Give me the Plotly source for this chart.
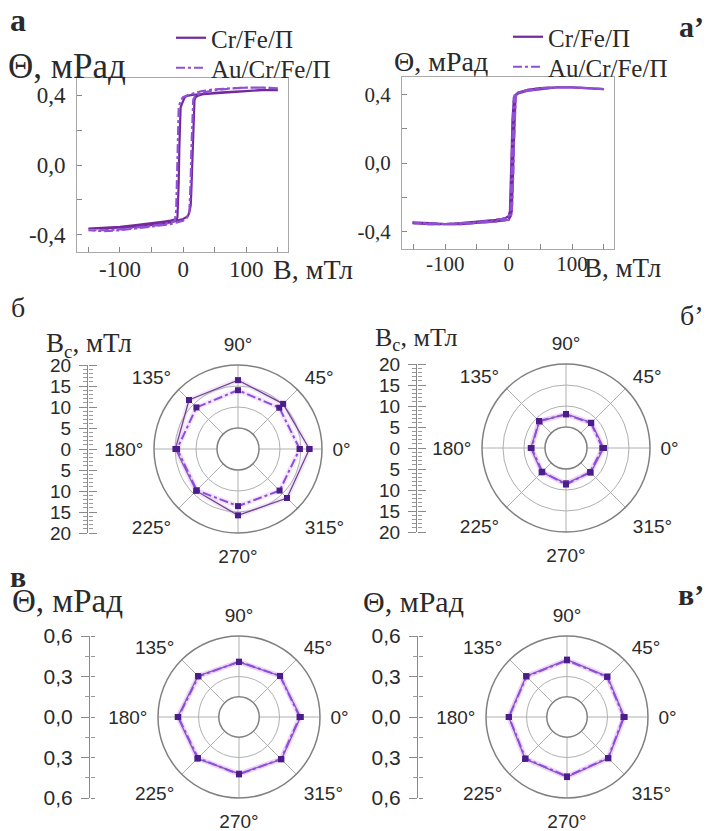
import plotly.graph_objects as go

W, H = 710, 831

# ---------------- data: hysteresis loops (panel а) ----------------
a_cr_desc_B = [150, 120, 100, 75, 50, 30, 20, 10, 5, 2, 0, -2, -4, -5, -6, -7, -8, -9, -10, -15, -20, -30, -50, -75, -100, -125, -150]
a_cr_desc_T = [0.43, 0.43, 0.425, 0.42, 0.415, 0.41, 0.405, 0.40, 0.395, 0.385, 0.37, 0.35, 0.33, 0.25, 0.10, -0.10, -0.25, -0.30, -0.31, -0.315, -0.32, -0.325, -0.335, -0.345, -0.355, -0.36, -0.365]
a_cr_asc_B = [-150, -125, -100, -75, -50, -30, -20, -10, 0, 5, 8, 10, 12, 13, 14, 15, 16, 17, 18, 20, 25, 30, 50, 75, 100, 125, 150]
a_cr_asc_T = [-0.365, -0.365, -0.36, -0.355, -0.345, -0.335, -0.33, -0.32, -0.31, -0.30, -0.29, -0.27, -0.23, -0.15, -0.02, 0.12, 0.26, 0.34, 0.375, 0.39, 0.40, 0.405, 0.415, 0.42, 0.425, 0.43, 0.43]

a_au_desc_B = [150, 125, 100, 75, 50, 30, 20, 10, 0, -4, -7, -8, -9, -10, -11, -12, -13, -15, -20, -30, -50, -75, -100, -125, -150]
a_au_desc_T = [0.44, 0.445, 0.445, 0.44, 0.435, 0.425, 0.415, 0.405, 0.39, 0.37, 0.33, 0.22, 0.05, -0.12, -0.26, -0.31, -0.32, -0.325, -0.33, -0.34, -0.35, -0.36, -0.37, -0.375, -0.375]
a_au_asc_B = [-150, -125, -100, -75, -50, -30, -20, -10, 0, 5, 8, 10, 11, 12, 13, 14, 15, 16, 18, 20, 30, 50, 75, 100, 125, 150]
a_au_asc_T = [-0.375, -0.38, -0.375, -0.365, -0.355, -0.345, -0.34, -0.33, -0.32, -0.31, -0.29, -0.26, -0.20, -0.08, 0.08, 0.24, 0.34, 0.375, 0.39, 0.40, 0.415, 0.43, 0.44, 0.445, 0.445, 0.44]

# ---------------- data: hysteresis loops (panel а’) ----------------
ap_cr_desc_B = [150, 125, 100, 75, 50, 30, 20, 15, 12, 10, 8, 6, 5, 4, 3, 2, 0, -5, -10, -20, -50, -75, -100, -125, -150]
ap_cr_desc_T = [0.43, 0.435, 0.44, 0.44, 0.435, 0.425, 0.415, 0.41, 0.40, 0.39, 0.36, 0.25, 0.10, -0.05, -0.20, -0.28, -0.31, -0.32, -0.325, -0.33, -0.34, -0.35, -0.355, -0.355, -0.35]
ap_cr_asc_B = [-150, -125, -100, -75, -50, -20, 0, 3, 5, 6, 7, 8, 9, 10, 11, 12, 15, 20, 30, 50, 75, 100, 125, 150]
ap_cr_asc_T = [-0.345, -0.35, -0.355, -0.355, -0.35, -0.34, -0.33, -0.31, -0.28, -0.20, -0.05, 0.10, 0.25, 0.35, 0.39, 0.40, 0.405, 0.41, 0.42, 0.43, 0.44, 0.44, 0.435, 0.43]

ap_au_desc_B = [150, 125, 100, 75, 50, 30, 20, 15, 12, 10, 8, 7, 6, 5, 4, 3, 0, -5, -10, -20, -50, -75, -100, -125, -150]
ap_au_desc_T = [0.43, 0.435, 0.44, 0.44, 0.435, 0.425, 0.415, 0.41, 0.405, 0.40, 0.38, 0.30, 0.15, 0.0, -0.15, -0.27, -0.31, -0.32, -0.325, -0.33, -0.345, -0.35, -0.355, -0.355, -0.35]
ap_au_asc_B = [-150, -125, -100, -75, -50, -20, 0, 3, 5, 6, 7, 8, 9, 10, 11, 13, 15, 20, 30, 50, 75, 100, 125, 150]
ap_au_asc_T = [-0.35, -0.35, -0.355, -0.355, -0.35, -0.34, -0.33, -0.315, -0.29, -0.22, -0.10, 0.05, 0.20, 0.32, 0.38, 0.40, 0.405, 0.41, 0.42, 0.43, 0.44, 0.44, 0.435, 0.43]

# ---------------- data: angular dependences ----------------
angles = [0, 45, 90, 135, 180, 225, 270, 315]
b_cr_Bc = [17.0, 15.2, 16.4, 16.5, 14.9, 14.1, 15.8, 16.5]
b_au_Bc = [14.7, 13.9, 14.0, 14.0, 14.5, 13.9, 13.6, 14.0]
bp_cr_Bc = [9.0, 8.5, 8.1, 8.9, 8.4, 8.2, 8.4, 8.3]
bp_au_Bc = [8.7, 8.4, 8.0, 9.1, 8.2, 8.0, 8.7, 8.1]
v_cr_T = [0.456, 0.43, 0.407, 0.43, 0.454, 0.436, 0.42, 0.444]
v_au_T = [0.45, 0.43, 0.41, 0.425, 0.45, 0.43, 0.425, 0.44]
vp_cr_T = [0.425, 0.424, 0.425, 0.428, 0.432, 0.439, 0.445, 0.433]
vp_au_T = [0.42, 0.42, 0.42, 0.425, 0.43, 0.435, 0.44, 0.43]

hyst_xticks = [-150, -100, -50, 0, 50, 100, 150]
hyst_xtext = ["", "-100", "", "0", "", "100", ""]
hyst_yticks = [-0.4, -0.2, 0.0, 0.2, 0.4]
hyst_ytext = ["-0,4", "", "0,0", "", "0,4"]
bc_ticks = [-20, -15, -10, -5, 0, 5, 10, 15, 20]
bc_text = ["20", "15", "10", "5", "0", "5", "10", "15", "20"]
th_ticks = [-0.6, -0.3, 0.0, 0.3, 0.6]
th_text = ["0,6", "0,3", "0,0", "0,3", "0,6"]

names = ["Cr/Fe/П", "Au/Cr/Fe/П"]

# ---------------- styles ----------------
C_CR = "#74299a"
C_AU = "#8f4fd6"
C_MK = "#4a1d8a"
SERIF = "Liberation Serif"
SANS = "Liberation Sans"
TXT = "#2a2a2a"
GRID = "#b0b0b0"


def dx(a, b):
    return [a / W, b / W]


def dy(top, bottom):
    return [1 - bottom / H, 1 - top / H]


fig = go.Figure()

# hysteresis traces (each item in its own legend box for exact placement)
for (xs, ys, nm, col, dash, ax, lg) in [
    (a_cr_desc_B + a_cr_asc_B, a_cr_desc_T + a_cr_asc_T, names[0], C_CR, "solid", ("x", "y"), "legend"),
    (a_au_desc_B + a_au_asc_B, a_au_desc_T + a_au_asc_T, names[1], C_AU, "dashdot", ("x", "y"), "legend2"),
    (ap_cr_desc_B + ap_cr_asc_B, ap_cr_desc_T + ap_cr_asc_T, names[0], C_CR, "solid", ("x2", "y2"), "legend3"),
    (ap_au_desc_B + ap_au_asc_B, ap_au_desc_T + ap_au_asc_T, names[1], C_AU, "dashdot", ("x2", "y2"), "legend4"),
]:
    fig.add_trace(go.Scatter(x=xs, y=ys, mode="lines", name=nm, legend=lg,
                             line=dict(color=col, width=2.2, dash=dash),
                             xaxis=ax[0], yaxis=ax[1]))


# polar traces
def add_polar(sub, rcr, rau):
    th_closed = angles + [angles[0]]
    for r, col, dash, w in [(rcr, "#6a4a8a", "solid", 1.3), (rau, "#8a4fe0", "dashdot", 2)]:
        rc = r + [r[0]]
        fig.add_trace(go.Scatterpolar(r=rc, theta=th_closed, mode="lines", subplot=sub,
                                      line=dict(color="rgba(215,150,240,0.25)", width=5),
                                      showlegend=False, hoverinfo="skip"))
        fig.add_trace(go.Scatterpolar(r=rc, theta=th_closed, mode="lines+markers", subplot=sub,
                                      line=dict(color=col, width=w, dash=dash),
                                      marker=dict(symbol="square", size=6, color=C_MK),
                                      showlegend=False))


add_polar("polar", b_cr_Bc, b_au_Bc)
add_polar("polar2", bp_cr_Bc, bp_au_Bc)
add_polar("polar3", v_cr_T, v_au_T)
add_polar("polar4", vp_cr_T, vp_au_T)


# ---------------- layout ----------------
def hyst_axes(xd, yd, fs):
    xa = dict(domain=xd, range=[-168, 166], tickmode="array", tickvals=hyst_xticks, ticktext=hyst_xtext,
              ticks="inside", ticklen=5, tickcolor="#888", showline=True, mirror=True, linecolor="#a8a8a8",
              linewidth=1, showgrid=False, zeroline=False, ticklabelstandoff=-4, automargin=False,
              tickfont=dict(family=SERIF, size=fs, color=TXT))
    ya = dict(domain=yd, range=[-0.5, 0.5], tickmode="array", tickvals=hyst_yticks, ticktext=hyst_ytext,
              ticks="inside", ticklen=5, tickcolor="#888", showline=True, mirror=True, linecolor="#a8a8a8",
              linewidth=1, showgrid=False, zeroline=False, ticklabelstandoff=6, automargin=False,
              tickfont=dict(family=SERIF, size=fs, color=TXT))
    return xa, ya


xa1, ya1 = hyst_axes(dx(77, 288), dy(78, 252), 23)
xa2, ya2 = hyst_axes(dx(402, 614), dy(77, 249), 21)
xa1["anchor"] = "y"; ya1["anchor"] = "x"
xa2["anchor"] = "y2"; ya2["anchor"] = "x2"


def polar_layout(cx, cy, R, rmin, rmax, rticks):
    return dict(
        domain=dict(x=dx(cx - R, cx + R), y=dy(cy - R, cy + R)),
        hole=rmin / rmax, bgcolor="white",
        radialaxis=dict(range=[rmin, rmax], tickmode="array", tickvals=rticks, showticklabels=False,
                        ticks="", showline=False, gridcolor=GRID, gridwidth=1),
        angularaxis=dict(rotation=0, direction="counterclockwise", tickmode="array",
                         tickvals=angles, ticktext=[f"{a}°" for a in angles],
                         ticks="outside", ticklen=6, tickcolor="rgba(0,0,0,0)",
                         linecolor="#808080", linewidth=1.5, gridcolor=GRID, gridwidth=1,
                         tickfont=dict(family=SANS, size=19, color=TXT)),
    )


def legend_box(x_text, y_center):
    return dict(x=(x_text - 41) / W, y=1 - y_center / H, xanchor="left", yanchor="middle",
                bgcolor="rgba(0,0,0,0)", font=dict(family=SERIF, size=25, color=TXT),
                tracegroupgap=0)


layout = dict(
    width=W, height=H, margin=dict(l=0, r=0, t=0, b=0, autoexpand=False),
    paper_bgcolor="white", plot_bgcolor="white",
    xaxis=xa1, yaxis=ya1, xaxis2=xa2, yaxis2=ya2,
    polar=polar_layout(238, 449, 84, 5, 20, [5, 10, 15]),
    polar2=polar_layout(566, 448, 84, 5, 20, [5, 10, 15]),
    polar3=polar_layout(239, 717, 81, 0.15, 0.6, [0.3]),
    polar4=polar_layout(567, 717, 81, 0.15, 0.6, [0.3]),
    legend=legend_box(212, 38),
    legend2=legend_box(212, 68),
    legend3=legend_box(549, 37),
    legend4=legend_box(549, 67),
    showlegend=True,
)


# rulers (separate linear scales for the radial axes)
def add_ruler(n, lx, cy, R, rng, tv, tt, mdt, fsize, rlen):
    yd = dy(cy - R, cy + R)
    common = dict(domain=yd, range=rng, tickmode="array", tickvals=tv, showgrid=False, zeroline=False,
                  ticks="outside", tickcolor="#8a8a8a", tickwidth=1, automargin=False,
                  minor=dict(dtick=mdt, ticks="outside", ticklen=4, tickcolor="#9a9a9a", showgrid=False))
    layout[f"xaxis{n}"] = dict(domain=dx(lx, lx + 20), anchor=f"y{n}", visible=False, range=[0, 1])
    layout[f"yaxis{n}"] = dict(anchor=f"x{n}", side="left", ticktext=tt, ticklen=8, showline=True,
                               linecolor="#8a8a8a", linewidth=1, ticklabelstandoff=4,
                               tickfont=dict(family=SANS, size=fsize, color=TXT), **common)
    layout[f"xaxis{n+1}"] = dict(domain=dx(lx - 20, lx), anchor=f"y{n+1}", visible=False, range=[0, 1])
    layout[f"yaxis{n+1}"] = dict(anchor=f"x{n+1}", side="right", ticklen=rlen, showline=False,
                                 showticklabels=False, **common)
    for k in (n, n + 1):
        fig.add_trace(go.Scatter(x=[], y=[], xaxis=f"x{k}", yaxis=f"y{k}", showlegend=False,
                                 hoverinfo="skip"))


add_ruler(3, 88, 449, 84, [-20, 20], bc_ticks, bc_text, 1, 19, 8)
add_ruler(5, 417, 448, 84, [-20, 20], bc_ticks, bc_text, 1, 19, 8)
add_ruler(7, 90, 717, 81, [-0.6, 0.6], th_ticks, th_text, 0.15, 21, 4)
add_ruler(9, 418, 717, 81, [-0.6, 0.6], th_ticks, th_text, 0.15, 21, 4)

fig.update_layout(**layout)


def ann(text, x, y, size, xanchor="left", bold=False, family=SERIF):
    fig.add_annotation(text=f"<b>{text}</b>" if bold else text, x=x / W, y=1 - y / H,
                       xref="paper", yref="paper", xanchor=xanchor, yanchor="middle",
                       showarrow=False, font=dict(family=family, size=size, color=TXT))


ann("а", 8, 20, 32, bold=True)
ann("а’", 706, 26, 30, xanchor="right", bold=True)
ann("б", 9, 307, 28)
ann("б’", 706, 315, 28, xanchor="right")
ann("в", 8, 576, 30, bold=True)
ann("в’", 706, 594, 30, xanchor="right", bold=True)

ann("Θ, мРад", 6, 66, 35)
ann("Θ, мРад", 392, 62, 28)
ann("Θ, мРад", 10, 601, 33)
ann("Θ, мРад", 361, 601, 30)
ann("B<sub>c</sub>, мТл", 44, 345, 27)
ann("B<sub>c</sub>, мТл", 373, 339, 26)
ann("B, мТл", 271, 270, 28)
ann("B, мТл", 582, 268, 27)

# the page's default 8px body margin would shift the whole figure; remove it
fig.write_html("out.html", config={"displayModeBar": False},
               post_script="document.body.style.margin='0';")
